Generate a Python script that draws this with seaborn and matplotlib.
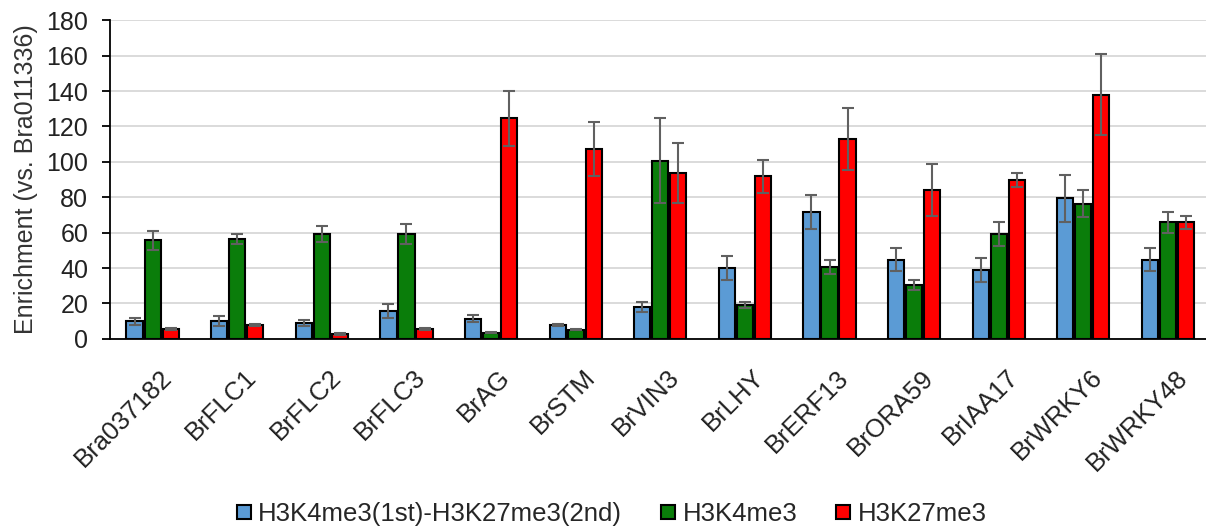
import numpy as np
import pandas as pd
import matplotlib
matplotlib.use("Agg")
import matplotlib.pyplot as plt
import matplotlib.transforms as mtransforms
from matplotlib.lines import Line2D
import seaborn as sns

genes = ["Bra037182", "BrFLC1", "BrFLC2", "BrFLC3", "BrAG", "BrSTM", "BrVIN3",
         "BrLHY", "BrERF13", "BrORA59", "BrIAA17", "BrWRKY6", "BrWRKY48"]
series = ["H3K4me3(1st)-H3K27me3(2nd)", "H3K4me3", "H3K27me3"]

seq_vals = [10, 10, 9.2, 15.8, 11.3, 7.7, 17.8, 40, 71.8, 44.7, 38.9, 79.3, 44.7]
seq_err = [2, 3, 1.7, 3.9, 2, 0.5, 2.8, 6.6, 9.5, 6.6, 6.8, 13.5, 6.6]
k4_vals = [55.6, 56.5, 59.2, 59.2, 3.4, 5.2, 100.5, 18.9, 40.8, 30.2, 59.2, 76.4, 65.8]
k4_err = [5.5, 2.7, 4.7, 5.8, 0.3, 0.3, 24, 1.7, 3.9, 2.8, 6.7, 7.6, 5.8]
k27_vals = [5.6, 7.7, 2.8, 5.5, 124.6, 107.3, 93.7, 91.9, 112.9, 84, 89.8, 137.9, 65.8]
k27_err = [0.5, 0.5, 0.4, 0.5, 15.4, 15.2, 17, 9.3, 17.3, 14.6, 3.8, 23, 3.7]

colors = ["#5b9bd5", "#0a7d0a", "#ff0000"]

sns.set_theme(style="white")
plt.rcParams["font.family"] = ["Liberation Sans", "DejaVu Sans"]

df = pd.DataFrame({
    "gene": genes * 3,
    "series": [series[0]] * len(genes) + [series[1]] * len(genes) + [series[2]] * len(genes),
    "value": seq_vals + k4_vals + k27_vals,
    "err": seq_err + k4_err + k27_err,
})

fig, ax = plt.subplots(figsize=(12.06, 5.32), dpi=100)
fig.subplots_adjust(left=0.0915, right=1.0, top=0.962, bottom=0.363)

sns.barplot(data=df, x="gene", y="value", hue="series", order=genes,
            hue_order=series, palette=colors, errorbar=None, width=0.64,
            gap=0.1, edgecolor="black", linewidth=1.5, saturation=1,
            legend=False, ax=ax)

# error bars at bar centres
bars = list(ax.patches)[:len(df)]
for i, s in enumerate(series):
    sub = df[df["series"] == s]
    for j, (v, e) in enumerate(zip(sub["value"], sub["err"])):
        p = bars[i * len(genes) + j]
        xc = p.get_x() + p.get_width() / 2
        ax.errorbar(xc, v, yerr=e, fmt="none", ecolor="#606060",
                    elinewidth=1.5, capsize=4, capthick=1.5, zorder=5)

ax.set_ylim(0, 180)
ax.set_yticks(np.arange(0, 181, 20))
ax.set_xlim(-0.5, len(genes) - 0.55)
ax.yaxis.grid(True, color="#d4d4d4", linewidth=1.2)
ax.set_axisbelow(True)
for side in ["top", "right"]:
    ax.spines[side].set_visible(False)
ax.spines["left"].set_color("black")
ax.spines["bottom"].set_color("black")
ax.spines["left"].set_linewidth(1.3)
ax.spines["bottom"].set_linewidth(1.3)
ax.tick_params(axis="y", which="major", left=True, length=6, width=1.3,
               color="black", labelsize=18, pad=10)
ax.tick_params(axis="x", bottom=False, labelsize=18.5, pad=13)
offset = mtransforms.ScaledTranslation(7 / 100, 0, fig.dpi_scale_trans)
for t in ax.get_xticklabels():
    t.set_rotation(45)
    t.set_ha("right")
    t.set_rotation_mode("anchor")
    t.set_transform(t.get_transform() + offset)
ax.set_xlabel("")
ax.set_ylabel("Enrichment (vs. Bra011336)", fontsize=18, color="#333333", labelpad=6)
for t in ax.get_yticklabels() + ax.get_xticklabels():
    t.set_color("#222222")

handles = [Line2D([], [], linestyle="none", marker="s", markersize=9.5,
                  markerfacecolor=c, markeredgecolor="black", markeredgewidth=1.5)
           for c in colors]
fig.legend(handles, series, loc="center", bbox_to_anchor=(0.507, 0.034),
           ncol=3, frameon=False, fontsize=18.5, handlelength=0.6,
           handletextpad=0.25, columnspacing=1.5)

fig.savefig("out.png", dpi=100)
